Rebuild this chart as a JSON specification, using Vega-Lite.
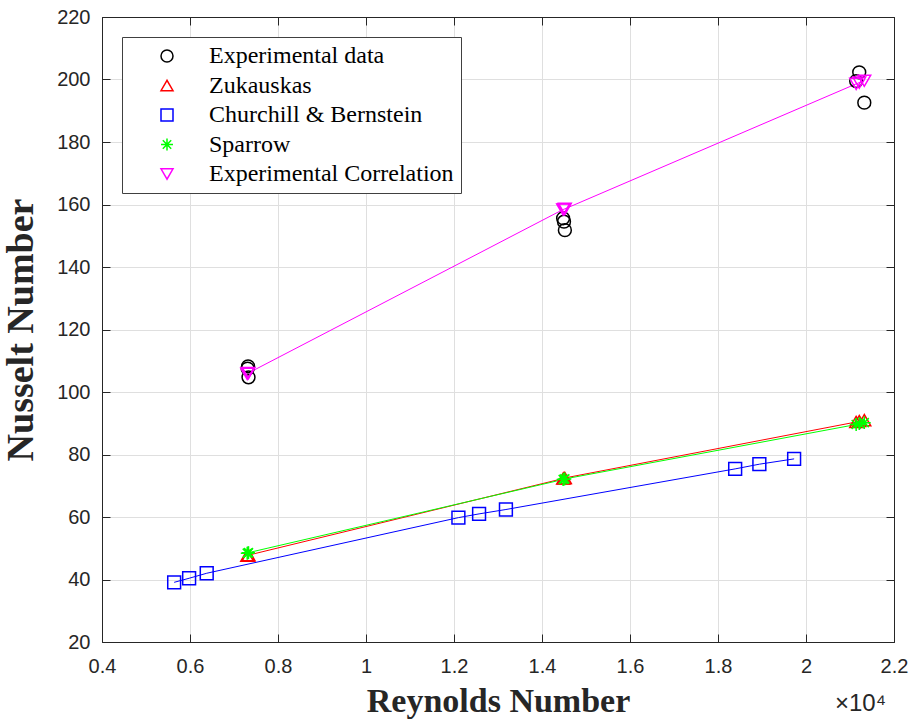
{
  "$schema": "https://vega.github.io/schema/vega-lite/v6.json",
  "width": 792,
  "height": 625,
  "autosize": "none",
  "padding": {"left": 102, "top": 17, "right": 18, "bottom": 80},
  "background": "white",
  "config": {"view": {"stroke": "#262626", "strokeWidth": 1}, "font": "Liberation Sans"},
  "data": {"values": [
    {"series": "Experimental data", "re": 7320, "nu": 108.2},
    {"series": "Experimental data", "re": 7310, "nu": 107.5},
    {"series": "Experimental data", "re": 7330, "nu": 104.7},
    {"series": "Experimental data", "re": 14480, "nu": 155.6},
    {"series": "Experimental data", "re": 14500, "nu": 154.5},
    {"series": "Experimental data", "re": 14520, "nu": 151.8},
    {"series": "Experimental data", "re": 21140, "nu": 199.5},
    {"series": "Experimental data", "re": 21210, "nu": 202.3},
    {"series": "Experimental data", "re": 21325, "nu": 192.6},
    {"series": "Zukauskas", "re": 7300, "nu": 47.6},
    {"series": "Zukauskas", "re": 7320, "nu": 47.7},
    {"series": "Zukauskas", "re": 7330, "nu": 47.8},
    {"series": "Zukauskas", "re": 14480, "nu": 72.3},
    {"series": "Zukauskas", "re": 14500, "nu": 72.4},
    {"series": "Zukauskas", "re": 14520, "nu": 72.5},
    {"series": "Zukauskas", "re": 21140, "nu": 90.4},
    {"series": "Zukauskas", "re": 21210, "nu": 90.7},
    {"series": "Zukauskas", "re": 21325, "nu": 91.0},
    {"series": "Churchill & Bernstein", "re": 5640, "nu": 39.1},
    {"series": "Churchill & Bernstein", "re": 5980, "nu": 40.4},
    {"series": "Churchill & Bernstein", "re": 6380, "nu": 42.0},
    {"series": "Churchill & Bernstein", "re": 12100, "nu": 59.8},
    {"series": "Churchill & Bernstein", "re": 12570, "nu": 61.0},
    {"series": "Churchill & Bernstein", "re": 13180, "nu": 62.4},
    {"series": "Churchill & Bernstein", "re": 18390, "nu": 75.4},
    {"series": "Churchill & Bernstein", "re": 18940, "nu": 76.9},
    {"series": "Churchill & Bernstein", "re": 19730, "nu": 78.6},
    {"series": "Sparrow", "re": 7300, "nu": 48.4},
    {"series": "Sparrow", "re": 7320, "nu": 48.5},
    {"series": "Sparrow", "re": 7330, "nu": 48.6},
    {"series": "Sparrow", "re": 14480, "nu": 72.0},
    {"series": "Sparrow", "re": 14500, "nu": 72.1},
    {"series": "Sparrow", "re": 14520, "nu": 72.2},
    {"series": "Sparrow", "re": 21140, "nu": 89.6},
    {"series": "Sparrow", "re": 21210, "nu": 89.9},
    {"series": "Sparrow", "re": 21325, "nu": 90.2},
    {"series": "Experimental Correlation", "re": 7300, "nu": 105.8},
    {"series": "Experimental Correlation", "re": 7320, "nu": 106.0},
    {"series": "Experimental Correlation", "re": 7330, "nu": 106.1},
    {"series": "Experimental Correlation", "re": 14480, "nu": 158.4},
    {"series": "Experimental Correlation", "re": 14500, "nu": 158.5},
    {"series": "Experimental Correlation", "re": 14520, "nu": 158.6},
    {"series": "Experimental Correlation", "re": 21140, "nu": 198.6},
    {"series": "Experimental Correlation", "re": 21210, "nu": 199.0},
    {"series": "Experimental Correlation", "re": 21325, "nu": 199.6}
  ]},
  "layer": [
    {
      "transform": [{"filter": "datum.series !== 'Experimental data'"}],
      "mark": {"type": "line", "strokeWidth": 1, "clip": true},
      "encoding": {
        "x": {"field": "re", "type": "quantitative",
          "scale": {"domain": [4000, 22000], "nice": false, "zero": false},
          "axis": {"orient": "bottom", "values": [4000, 6000, 8000, 10000, 12000, 14000, 16000, 18000, 20000, 22000],
            "labelExpr": "datum.value/10000 + ''", "title": "Reynolds Number",
            "titleFont": "Liberation Serif", "titleFontSize": 34, "titleFontWeight": "bold", "titleColor": "#262626", "titlePadding": 8,
            "labelFont": "Liberation Sans", "labelFontSize": 20, "labelColor": "#262626", "labelPadding": 22, "labelFlush": false,
            "tickSize": -8, "tickColor": "#262626", "domainColor": "#262626", "grid": true, "gridColor": "#dfdfdf", "gridWidth": 1}},
        "y": {"field": "nu", "type": "quantitative",
          "scale": {"domain": [20, 220], "nice": false, "zero": false},
          "axis": {"orient": "left", "values": [20, 40, 60, 80, 100, 120, 140, 160, 180, 200, 220],
            "title": "Nusselt Number",
            "titleFont": "Liberation Serif", "titleFontSize": 38, "titleFontWeight": "bold", "titleColor": "#262626", "titlePadding": 16,
            "labelFont": "Liberation Sans", "labelFontSize": 20, "labelColor": "#262626", "labelPadding": 20, "labelFlush": false,
            "tickSize": -8, "tickColor": "#262626", "domainColor": "#262626", "grid": true, "gridColor": "#dfdfdf", "gridWidth": 1}},
        "stroke": {"field": "series", "type": "nominal",
          "scale": {"domain": ["Zukauskas", "Churchill & Bernstein", "Sparrow", "Experimental Correlation"],
            "range": ["#ff0000", "#0000ff", "#00ff00", "#ff00ff"]},
          "legend": null}
      }
    },
    {
      "mark": {"type": "point", "filled": false, "size": 165, "strokeWidth": 1.5, "opacity": 1, "clip": true},
      "encoding": {
        "x": {"field": "re", "type": "quantitative",
          "axis": {"orient": "top", "values": [4000, 6000, 8000, 10000, 12000, 14000, 16000, 18000, 20000, 22000],
            "labels": false, "title": null, "grid": false, "tickSize": -8, "tickColor": "#262626", "domainColor": "#262626"}},
        "y": {"field": "nu", "type": "quantitative",
          "axis": {"orient": "right", "values": [20, 40, 60, 80, 100, 120, 140, 160, 180, 200, 220],
            "labels": false, "title": null, "grid": false, "tickSize": -8, "tickColor": "#262626", "domainColor": "#262626"}},
        "shape": {"field": "series", "type": "nominal",
          "scale": {"domain": ["Experimental data", "Zukauskas", "Churchill & Bernstein", "Sparrow", "Experimental Correlation"],
            "range": ["circle", "triangle-up", "square", "M0,-1L0,1M-1,0L1,0M-0.7,-0.7L0.7,0.7M-0.7,0.7L0.7,-0.7", "triangle-down"]},
          "legend": {
            "title": null, "orient": "top-left", "offset": 20,
            "fillColor": "white", "strokeColor": "#404040", "padding": 7,
            "labelFont": "Liberation Serif", "labelFontSize": 24, "labelColor": "#000000", "labelLimit": 500,
            "symbolSize": 144, "symbolStrokeWidth": 1.5, "symbolOffset": 26, "labelOffset": 30, "rowPadding": 5.5
          }},
        "color": {"field": "series", "type": "nominal",
          "scale": {"domain": ["Experimental data", "Zukauskas", "Churchill & Bernstein", "Sparrow", "Experimental Correlation"],
            "range": ["#000000", "#ff0000", "#0000ff", "#00ff00", "#ff00ff"]},
          "legend": {
            "title": null, "orient": "top-left", "offset": 20,
            "fillColor": "white", "strokeColor": "#404040", "padding": 7,
            "labelFont": "Liberation Serif", "labelFontSize": 24, "labelColor": "#000000", "labelLimit": 500,
            "symbolSize": 144, "symbolStrokeWidth": 1.5, "symbolOffset": 26, "labelOffset": 30, "rowPadding": 5.5
          }}
      }
    },
    {
      "data": {"values": [{"label": "×10⁴"}]},
      "mark": {"type": "text", "align": "right", "baseline": "top", "dx": -8, "dy": 50, "font": "Liberation Sans", "fontSize": 24, "color": "#262626"},
      "encoding": {
        "x": {"datum": 22000, "type": "quantitative", "axis": null},
        "y": {"datum": 20, "type": "quantitative", "axis": null},
        "text": {"field": "label"}
      }
    }
  ],
  "resolve": {"axis": {"x": "independent", "y": "independent"}}
}
